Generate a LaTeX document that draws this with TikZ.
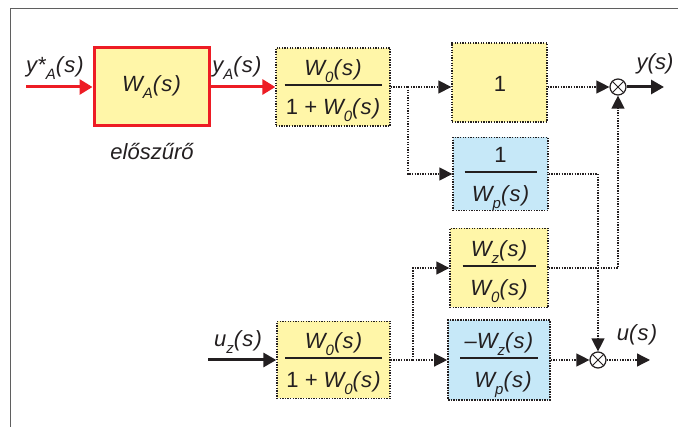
\documentclass[tikz,border=0pt]{standalone}
\usepackage{fontspec}
\setmainfont{Liberation Sans}
\usetikzlibrary{arrows.meta}

\definecolor{ink}{RGB}{35,31,32}
\definecolor{boxyellow}{RGB}{255,246,168}
\definecolor{boxblue}{RGB}{198,232,248}
\definecolor{filterred}{RGB}{237,28,36}
\definecolor{framegray}{RGB}{95,95,95}

% lowered, smaller index letter
\newcommand{\sbs}[1]{\raisebox{-0.3em}{\fontsize{15}{15}\selectfont #1}}
% argument "(s)" with a little air inside the brackets
\newcommand{\ofs}{(\kern1.2pt s\kern1.2pt)}
% upright digit one
\newcommand{\one}{{\upshape 1}}

% numerator, bar and denominator inside a block
% #1 block name, #2 half bar length, #3 numerator, #4 denominator
\newcommand{\fracin}[4]{%
  \node[lbl, anchor=base] (#1-num) at ([yshift=11pt]#1.center) {#3};
  \node[lbl, anchor=base] (#1-den) at ([yshift=-28pt]#1.center) {#4};
  \draw[ink, line width=1.2pt] ([xshift=-#2pt, yshift=2pt]#1.center) -- ([xshift=#2pt, yshift=2pt]#1.center);
}

\tikzset{
  lbl/.style={font=\fontsize{22}{22}\selectfont\itshape, text=ink, inner sep=0pt},
  blk/.style={draw=ink, line width=1.3pt, dash pattern=on 1.3pt off 1.3pt, rectangle, inner sep=0pt},
  yel/.style={blk, fill=boxyellow},
  blu/.style={blk, fill=boxblue},
  sigline/.style={draw=ink, line width=1.3pt, dash pattern=on 1.3pt off 1.3pt},
  sig/.style={sigline, -{Triangle[length=13pt,width=13pt]}},
  solidsig/.style={draw=ink, line width=3pt, -{Triangle[length=13pt,width=14pt]}},
  redsig/.style={draw=filterred, line width=3pt, -{Triangle[length=13pt,width=15pt]}},
  summer/.style={circle, draw=ink, fill=white, line width=1.2pt, minimum size=16pt, inner sep=0pt},
}

\begin{document}
\begin{tikzpicture}[x=1pt, y=-1pt]
\useasboundingbox (0,0) rectangle (678,427);

% open frame
\draw[framegray, line width=1.5pt] (10.5,427) -- (10.5,8.5) -- (678,8.5);

% prefilter
\node[rectangle, draw=filterred, line width=3pt, fill=boxyellow,
      minimum width=115pt, minimum height=78pt, inner sep=0pt] (WA) at (151.5,87) {};
\node[lbl] (WA-txt) at (151.5,87) {W\sbs{A}\ofs};
\node[lbl] (pre) at (152,152) {előszűrő};

% blocks
\node[yel, minimum width=114pt, minimum height=78pt] (B1) at (333,87) {};
\fracin{B1}{48.5}{W\sbs{0}\ofs}{\one{} + W\sbs{0}\ofs}

\node[yel, minimum width=95pt, minimum height=79pt] (One) at (499.5,82.5) {};
\node[lbl] (One-txt) at (500,84) {\one};

\node[blu, minimum width=95pt, minimum height=73pt] (Bp) at (500.5,174) {};
\fracin{Bp}{36}{\one}{W\sbs{p}\ofs}

\node[yel, minimum width=98pt, minimum height=79pt] (Bz) at (499,268) {};
\fracin{Bz}{36.5}{W\sbs{z}\ofs}{W\sbs{0}\ofs}

\node[blu, line width=1.6pt, dash pattern=on 1.6pt off 1pt, minimum width=102pt, minimum height=80pt] (Bzp) at (499,360) {};
\fracin{Bzp}{39}{\textendash W\sbs{z}\ofs}{\hspace{8pt}W\sbs{p}\ofs}

\node[yel, minimum width=113pt, minimum height=77pt] (B2) at (333.5,360) {};
\fracin{B2}{48.5}{W\sbs{0}\ofs}{\one{} + W\sbs{0}\ofs}

% summing junctions
\node[summer] (S1) at (618,87) {};
\draw[ink, line width=1pt] (S1.north west) -- (S1.south east) (S1.north east) -- (S1.south west);
\node[summer] (S2) at (598,360) {};
\draw[ink, line width=1pt] (S2.north west) -- (S2.south east) (S2.north east) -- (S2.south west);

% free ends and branch points
\coordinate (in1) at (26,87);
\coordinate (in2) at (208,360);
\coordinate (out1) at (664,87);
\coordinate (out2) at (650,360);
\coordinate (br1) at (408,87);
\coordinate (br2) at (413,360);

% signals
\draw[redsig] (in1) -- (WA.west);
\draw[redsig] (WA.east) -- (B1.west);
\draw[sigline] (B1.east) -- (br1);
\draw[sig] (br1) -- (br1 -| One.west);
\draw[sig] (br1) |- (Bp.west);
\draw[sig] (One.east |- S1) -- (S1.west);
\draw[solidsig] (S1.east) -- (out1);
\draw[sig] (Bp.east) -| (S2.north);
\draw[sig] (Bz.east) -| (S1.south);
\draw[solidsig] (in2) -- (B2.west);
\draw[sigline] (B2.east) -- (br2);
\draw[sig] (br2) -- (Bzp.west);
\draw[sig] (br2) |- (Bz.west);
\draw[sig] (Bzp.east) -- (S2.west);
\draw[sig] (S2.east) -- (out2);

% signal names
\node[lbl] (l-ystar) at (55,68) {y*\sbs{A}\ofs};
\node[lbl] (l-ya) at (237,68) {y\sbs{A}\ofs};
\node[lbl] (l-y) at (655,64) {y(s)};
\node[lbl] (l-uz) at (238,342) {u\sbs{z}\ofs};
\node[lbl] (l-u) at (637,335) {u\ofs};
\end{tikzpicture}
\end{document}
